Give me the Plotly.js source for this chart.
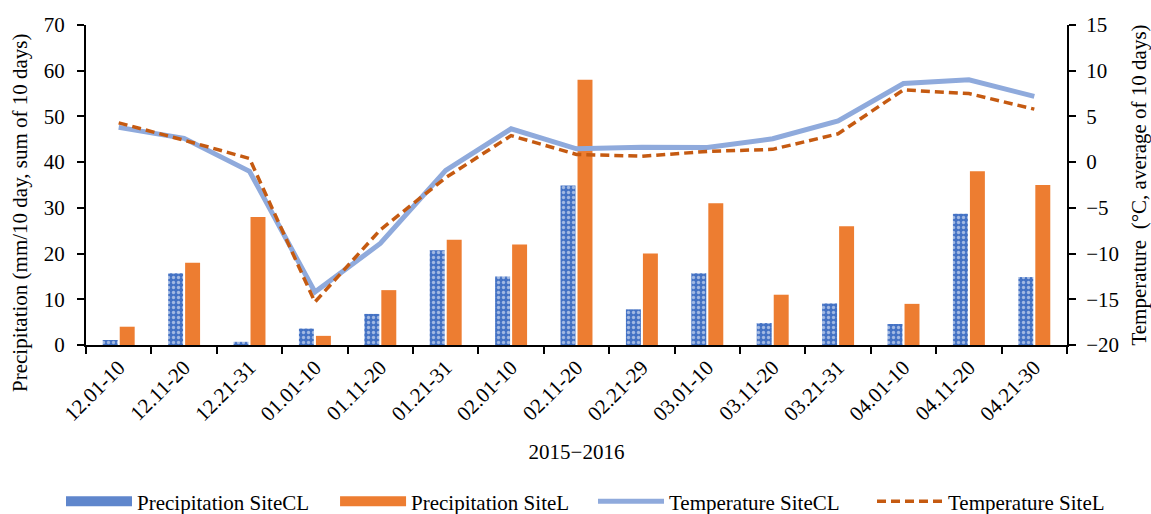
<!DOCTYPE html>
<html>
<head>
<meta charset="utf-8">
<script src="https://cdn.plot.ly/plotly-3.0.1.min.js"></script>
<style>html,body{margin:0;padding:0;background:#fff;}#chart{width:1151px;height:514px;}</style>
</head>
<body>
<div id="chart"></div>
<script>
const periods = ["12.01-10","12.11-20","12.21-31","01.01-10","01.11-20","01.21-31","02.01-10","02.11-20","02.21-29","03.01-10","03.11-20","03.21-31","04.01-10","04.11-20","04.21-30"];
const precipCL = [1.1, 15.7, 0.7, 3.6, 6.8, 20.7, 15.0, 34.9, 7.8, 15.7, 4.8, 9.1, 4.6, 28.7, 14.9];
const precipL  = [4, 18, 28, 2, 12, 23, 22, 58, 20, 31, 11, 26, 9, 38, 35];
const tempCL = [3.8, 2.6, -1.0, -14.2, -8.9, -0.9, 3.65, 1.46, 1.64, 1.6, 2.56, 4.5, 8.6, 9.0, 7.2];
const tempL  = [4.3, 2.4, 0.4, -15.3, -7.4, -1.7, 2.9, 0.84, 0.65, 1.17, 1.4, 3.1, 7.9, 7.5, 5.8];
const seriesNames = ["Precipitation SiteCL", "Precipitation SiteL", "Temperature SiteCL", "Temperature SiteL"];
const leftTitle = "Precipitation (mm/10 day, sum of 10 days)";
const rightTitle = "Temperature  (\u00B0C, average of 10 days)";
const xTitle = "2015\u22122016";

const fontFam = "Liberation Serif, serif";
const blue = "#4472C4", orange = "#ED7D31", lblue = "#8FAADC", dorange = "#C55A11";
const traces = [
  {type:"bar", name:seriesNames[0], x:periods, y:precipCL, yaxis:"y", showlegend:false,
   marker:{color:blue, line:{width:0}, pattern:{shape:".", fgcolor:"#ffffff", bgcolor:blue, size:5, solidity:0.35, fillmode:"overlay"}}},
  {type:"bar", name:seriesNames[1], x:periods, y:precipL, yaxis:"y", showlegend:false,
   marker:{color:orange, line:{width:0}}},
  {type:"scatter", mode:"lines", name:seriesNames[2], x:periods, y:tempCL, yaxis:"y2", legend:"legend3",
   line:{color:lblue, width:5}},
  {type:"scatter", mode:"lines", name:seriesNames[3], x:periods, y:tempL, yaxis:"y2", legend:"legend4",
   line:{color:dorange, width:3.5, dash:"9px,5px"}},
  // legend-only swatches for the bar series (wide rectangles, as in the reference)
  {type:"scatter", mode:"lines", name:seriesNames[0], x:[null], y:[null], yaxis:"y", legend:"legend",
   line:{color:"#5F86CC", width:13}, hoverinfo:"skip"},
  {type:"scatter", mode:"lines", name:seriesNames[1], x:[null], y:[null], yaxis:"y", legend:"legend2",
   line:{color:orange, width:13}, hoverinfo:"skip"}
];
function leg(x){
  return {orientation:"h", x:x, xref:"container", xanchor:"left", y:0.024, yref:"container", yanchor:"middle",
          itemwidth:66, font:{size:21}, bgcolor:"rgba(0,0,0,0)"};
}
const layout = {
  width:1151, height:514,
  margin:{l:86, r:84, t:25, b:169},
  paper_bgcolor:"#ffffff", plot_bgcolor:"#ffffff",
  font:{family:fontFam, size:21, color:"#000"},
  barmode:"group", bargap:0.48, bargroupgap:0.12,
  showlegend:true,
  legend:leg(0.0530), legend2:leg(0.2911), legend3:leg(0.5152), legend4:leg(0.7576),
  xaxis:{type:"category", automargin:false, showline:true, linecolor:"#000", linewidth:2, ticks:"outside", ticklen:7, tickwidth:2, tickcolor:"#000",
         tickson:"boundaries", tickangle:-45, showgrid:false, zeroline:false,
         title:{text:xTitle, font:{size:21}, standoff:19}},
  yaxis:{range:[0,70], dtick:10, automargin:false, showline:true, linecolor:"#000", linewidth:2, ticks:"outside", ticklen:7, tickwidth:2, tickcolor:"#000",
         showgrid:false, zeroline:false, ticklabelstandoff:8},
  yaxis2:{range:[-20,15], dtick:5, automargin:false, overlaying:"y", side:"right", showline:true, linecolor:"#000", linewidth:2, ticks:"outside", ticklen:7, tickwidth:2, tickcolor:"#000",
         showgrid:false, zeroline:false, ticklabelstandoff:6,
         title:{text:rightTitle, font:{size:21}, standoff:14}},
  annotations:[
    {text:leftTitle, textangle:-90, xref:"paper", yref:"paper", x:-0.0673, y:0.4156, xanchor:"center", yanchor:"middle", showarrow:false, font:{size:21}}
  ]
};
Plotly.newPlot("chart", traces, layout, {displayModeBar:false});
</script>
</body>
</html>
